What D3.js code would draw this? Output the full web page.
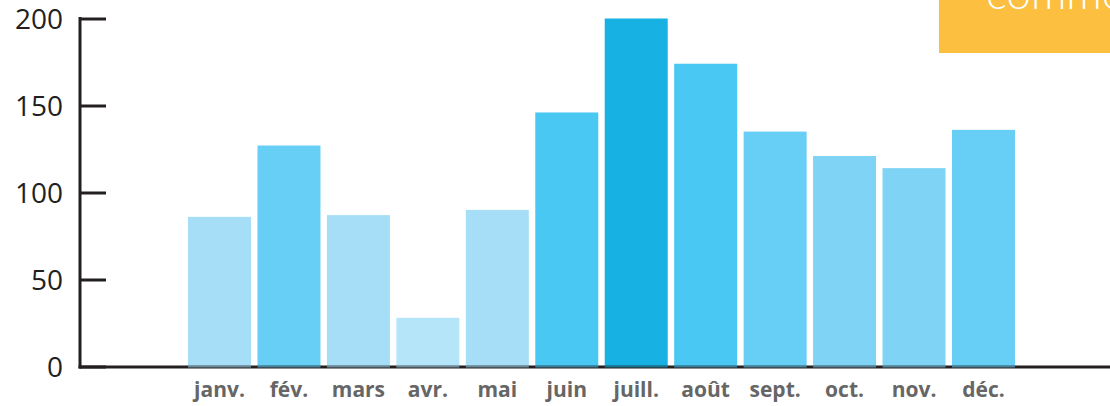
<!DOCTYPE html>
<html>
<head>
<meta charset="utf-8">
<script src="https://cdn.jsdelivr.net/npm/d3@7"></script>
<style>
  html, body { margin: 0; padding: 0; background: #fff; overflow: hidden; }
  svg { display: block; }
</style>
</head>
<body>
<div id="chart"></div>
<script>
/* data --------------------------------------------------------------- */
const months = ['janv.', 'fév.', 'mars', 'avr.', 'mai', 'juin',
                'juill.', 'août', 'sept.', 'oct.', 'nov.', 'déc.'];
const values = [86, 127, 87, 28, 90, 146, 200, 174, 135, 121, 114, 136];
const barColors = ['#a6def8', '#67cff5', '#a6def8', '#b5e5f9', '#a6def8', '#49c8f4',
                   '#17b2e3', '#49c8f4', '#67cff5', '#7fd3f5', '#7fd3f5', '#67cff5'];
const yTicks = [0, 50, 100, 150, 200];
const noteText = 'commentaires';

/* layout --------------------------------------------------------------- */
const W = 1110, H = 406;
const axisX = 80;
const ink = '#231f20';

const svg = d3.select('#chart').append('svg')
  .attr('width', W).attr('height', H);

const x = d3.scaleBand()
  .domain(months)
  .range([184.8, 1018.2])
  .paddingInner(0.093)
  .paddingOuter(0.0465);

const y = d3.scaleLinear()
  .domain([0, 200])
  .range([366.5, 18.5]);

/* bars ---------------------------------------------------------------- */
svg.append('g').selectAll('rect')
  .data(months).join('rect')
  .attr('x', d => x(d))
  .attr('width', x.bandwidth())
  .attr('y', (d, i) => y(values[i]))
  .attr('height', (d, i) => y(0) - y(values[i]))
  .attr('fill', (d, i) => barColors[i]);

/* x baseline ---------------------------------------------------------- */
svg.append('line')
  .attr('x1', axisX - 1.5).attr('x2', W)
  .attr('y1', y(0) + 0.5).attr('y2', y(0) + 0.5)
  .attr('stroke', ink).attr('stroke-width', 3);

// bars sit slightly over the baseline, tint it where they cross
svg.append('g').selectAll('rect')
  .data(months).join('rect')
  .attr('x', d => x(d))
  .attr('width', x.bandwidth())
  .attr('y', y(0) - 1)
  .attr('height', 2)
  .attr('fill', (d, i) => barColors[i])
  .attr('opacity', 0.55);

/* y axis -------------------------------------------------------------- */
const yAxis = d3.axisRight(y)
  .tickValues(yTicks)
  .tickSize(26)
  .tickPadding(0)
  .tickFormat(d3.format('d'));

const gy = svg.append('g')
  .attr('transform', `translate(${axisX},0)`)
  .call(yAxis);

gy.select('.domain')
  .attr('d', `M0,${y(200) - 1.5}V${y(0) + 2}`)
  .attr('stroke', ink).attr('stroke-width', 3);
gy.selectAll('.tick line')
  .attr('stroke', ink).attr('stroke-width', 3);
gy.selectAll('.tick text')
  .attr('x', -17)
  .attr('dy', '0.35em')
  .attr('text-anchor', 'end')
  .attr('fill', ink)
  .style('font-family', '"Open Sans", sans-serif')
  .style('font-size', '28px');

/* x labels ------------------------------------------------------------ */
svg.append('g').selectAll('text')
  .data(months).join('text')
  .attr('x', d => x(d) + x.bandwidth() / 2)
  .attr('y', 397)
  .attr('text-anchor', 'middle')
  .attr('fill', '#666666')
  .style('font-family', '"Open Sans", sans-serif')
  .style('font-weight', 700)
  .style('font-size', '21px')
  .text(d => d);

/* note box (top right, clipped by the frame as in the source) ---------- */
svg.append('rect')
  .attr('x', 939).attr('y', -10)
  .attr('width', W - 939 + 10).attr('height', 63)
  .attr('fill', '#fdbf3f');

svg.append('text')
  .attr('x', 986).attr('y', 9)
  .attr('fill', '#ffffff')
  .style('font-family', 'Lato, "Open Sans", sans-serif')
  .style('font-weight', 300)
  .style('font-size', '44px')
  .text(noteText);
</script>
</body>
</html>
